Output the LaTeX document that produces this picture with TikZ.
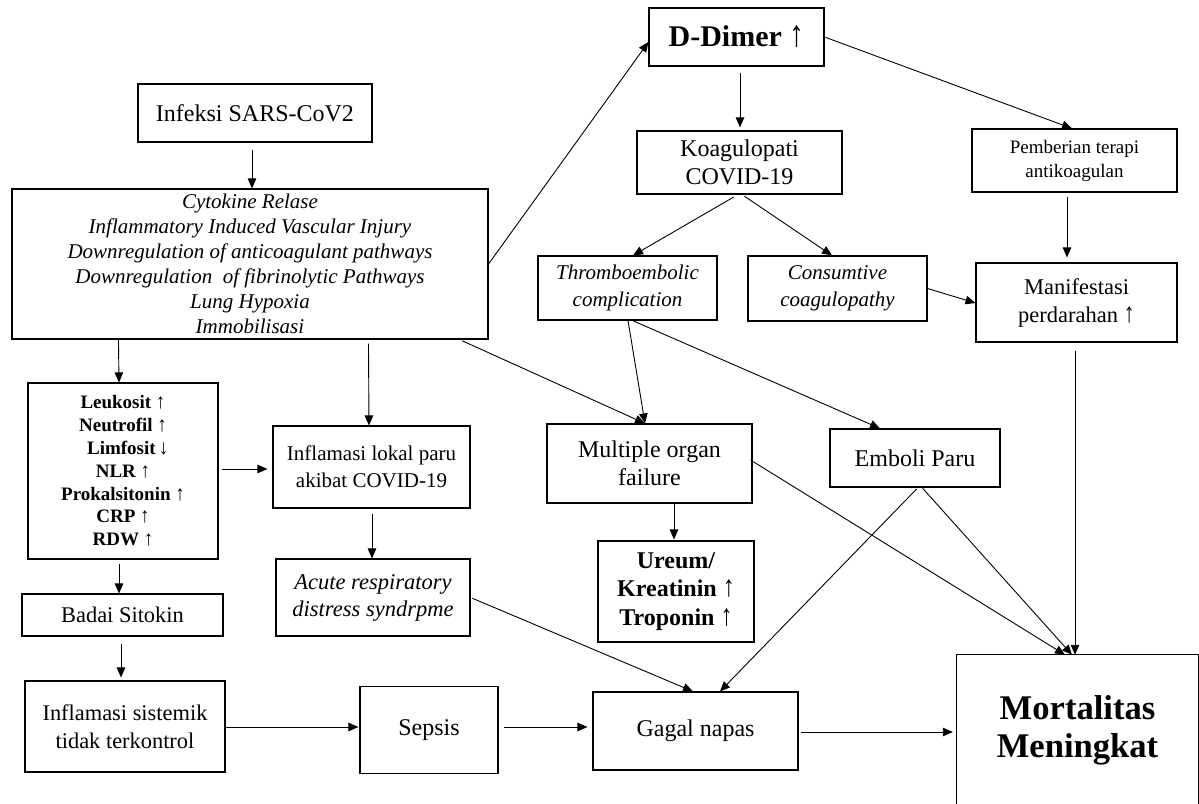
\documentclass[tikz,border=0pt]{standalone}
\usepackage{fontspec}
\setmainfont{Liberation Serif}
\usetikzlibrary{arrows.meta,calc}
\tikzset{
  box/.style={draw, line width=1.1pt, rectangle, inner sep=0pt, align=center},
  arr/.style={line width=0.9pt, -{Triangle[length=10pt,width=8.5pt]}},
}
\newcommand{\fs}[2]{\fontsize{#1}{#2}\selectfont}
\newcommand{\upar}{\scalebox{1}[1.25]{↑}}
\newcommand{\smup}{\scalebox{1}[1.1]{↑}}
\newcommand{\dnar}{\scalebox{1}[1.1]{↓}}
\begin{document}
\begin{tikzpicture}[x=1pt,y=-1pt]
\useasboundingbox (0,0) rectangle (1199,803);

\node[box, minimum width=234pt, minimum height=58pt, font=\fs{24}{28}] (inf) at (255,113) {Infeksi SARS-CoV2};
\node[box, minimum width=476pt, minimum height=150pt, font=\fs{21}{25}\itshape] (cyt) at (250,264)
 {Cytokine Relase\\Inflammatory Induced Vascular Injury\\Downregulation of anticoagulant pathways\\Downregulation\ \ of fibrinolytic Pathways\\Lung Hypoxia\\Immobilisasi};
\node[box, minimum width=175pt, minimum height=58pt, font=\fs{30}{34}\bfseries] (dd) at (736.5,37) {D-Dimer \upar};
\node[box, minimum width=205pt, minimum height=63pt, font=\fs{24}{28}] (koag) at (739.5,162.5) {Koagulopati\\COVID-19};
\node[box, minimum width=179pt, minimum height=64pt, font=\fs{21}{27}\itshape] (thr) at (627.5,288) {Thromboembolic\\complication};
\node[box, minimum width=179pt, minimum height=65pt, font=\fs{21}{27}\itshape] (con) at (837.5,288.5) {Consumtive\\coagulopathy};
\node[box, minimum width=205pt, minimum height=63pt, font=\fs{19}{24}] (pem) at (1074.5,160.5) {Pemberian terapi\\antikoagulan};
\node[box, minimum width=201pt, minimum height=79pt, font=\fs{22.5}{28}] (man) at (1076.5,302.5) {Manifestasi\\perdarahan \upar};
\node[box, minimum width=190pt, minimum height=176pt, font=\fs{19}{22.8}\bfseries] (leu) at (123,471)
 {Leukosit \smup\\Neutrofil \smup\\\ \ Limfosit\,\dnar\\NLR \smup\\Prokalsitonin \smup\\CRP \smup\\RDW \smup};
\node[box, minimum width=197pt, minimum height=82pt, font=\fs{21}{27}] (lok) at (371.5,467) {Inflamasi lokal paru\\akibat COVID-19};
\node[box, minimum width=205pt, minimum height=79pt, font=\fs{24}{28}] (mof) at (649.5,463.5) {Multiple organ\\failure};
\node[box, minimum width=170pt, minimum height=58pt, font=\fs{24}{28}] (emb) at (915,458) {Emboli Paru};
\node[box, minimum width=156pt, minimum height=101pt, font=\fs{24}{28.5}\bfseries] (ure) at (676,591.5) {Ureum/\\Kreatinin \upar\\Troponin \upar};
\node[box, minimum width=194pt, minimum height=77pt, font=\fs{22.5}{27}\itshape] (ards) at (373,597.5) {Acute respiratory\\distress syndrpme};
\node[box, minimum width=201pt, minimum height=42pt, font=\fs{22.4}{27}] (bad) at (122.5,615) {Badai Sitokin};
\node[box, minimum width=200pt, minimum height=91pt, font=\fs{22.4}{28}] (sis) at (125,726.5) {Inflamasi sistemik\\tidak terkontrol};
\node[box, minimum width=138pt, minimum height=87pt, font=\fs{24}{28}] (sep) at (429,730) {Sepsis};
\node[box, minimum width=205pt, minimum height=78pt, font=\fs{24}{28}] (gag) at (695.5,731) {Gagal napas};
\node[inner sep=0pt, align=center, minimum width=241pt, minimum height=150pt, font=\fs{34.6}{38}\bfseries] (mor) at (1077.5,730) {Mortalitas\\Meningkat};
\draw[line width=1.1pt] (mor.south west) -- (mor.north west) -- (mor.north east) -- (mor.south east);

\draw[arr, shorten <=7pt] ($(inf.south)+(-3,0)$) -- ($(cyt.north)+(2,0)$);
\draw[arr] (cyt.east) -- ($(dd.west)+(0,5)$);
\draw[arr, shorten <=6pt, shorten >=3pt] ($(dd.south)+(3.5,0)$) -- ($(koag.north)+(0.5,0)$);
\draw[arr, shorten <=1pt] (dd.east) -- ($(pem.north)+(-2.5,0)$);
\draw[arr, shorten <=5pt] ($(koag.south)+(-1.5,0)$) -- ($(thr.north)+(5.5,0)$);
\draw[arr, shorten <=3pt] ($(koag.south)+(2.5,0)$) -- ($(con.north)+(-5.5,0)$);
\draw[arr] (con.east) -- ($(man.west)+(0,0.5)$);
\draw[arr, shorten <=4pt, shorten >=5pt] ($(pem.south)+(-7.5,0)$) -- ($(man.north)+(-9.5,0)$);
\draw[arr, shorten <=8pt] ($(man.south)+(-1.5,0)$) -- ($(mor.north)+(-2.5,0)$);
\draw[arr] ($(cyt.south west)+(107,0)$) -- ($(leu.north)+(-4,0)$);
\draw[arr, shorten <=4pt] ($(cyt.south west)+(357,0)$) -- ($(lok.north)+(-2.5,0)$);
\draw[arr, shorten <=3pt] ($(cyt.south west)+(448,0)$) -- ($(mof.north)+(-4.5,0)$);
\draw[arr] ($(thr.south)+(0.5,0)$) -- ($(mof.north)+(-4.5,0)$);
\draw[arr, shorten <=1pt] ($(thr.south)+(5,0)$) -- ($(emb.north)+(-35,0)$);
\draw[arr, shorten <=3pt, shorten >=5pt] ($(leu.east)+(0,-2)$) -- ($(lok.west)+(0,2)$);
\draw[arr, shorten <=5pt] ($(lok.south)+(0.5,0)$) -- ($(ards.north)+(-1,0)$);
\draw[arr, shorten <=4pt] ($(leu.south)+(-4,0)$) -- ($(bad.north)+(-3.5,0)$);
\draw[arr, shorten <=7pt, shorten >=3pt] ($(bad.south)+(-1.5,0)$) -- ($(sis.north)+(-4,0)$);
\draw[arr, shorten >=1pt] ($(sis.east)+(0,0.5)$) -- ($(sep.west)+(0,-3)$);
\draw[arr, shorten <=5pt, shorten >=5pt] ($(sep.east)+(0,-3)$) -- ($(gag.west)+(0,-4)$);
\draw[arr, shorten <=2pt] (ards.east) -- ($(gag.north)+(-2.5,0)$);
\draw[arr, shorten <=2pt] ($(emb.south)+(3,0)$) -- ($(gag.north)+(24.5,0)$);
\draw[arr, shorten <=1pt] ($(emb.south)+(7,0)$) -- ($(mor.north)+(-5.5,0)$);
\draw[arr] ($(mof.east)+(-2,-3.5)$) -- ($(mor.north)+(-12.5,0)$);
\draw[arr, shorten >=1pt] ($(mof.south)+(24.5,0)$) -- ($(ure.north)+(-2,0)$);
\draw[arr, shorten <=2pt, shorten >=4pt] ($(gag.east)+(0,1)$) -- ($(mor.west)+(0,2)$);
\end{tikzpicture}
\end{document}
